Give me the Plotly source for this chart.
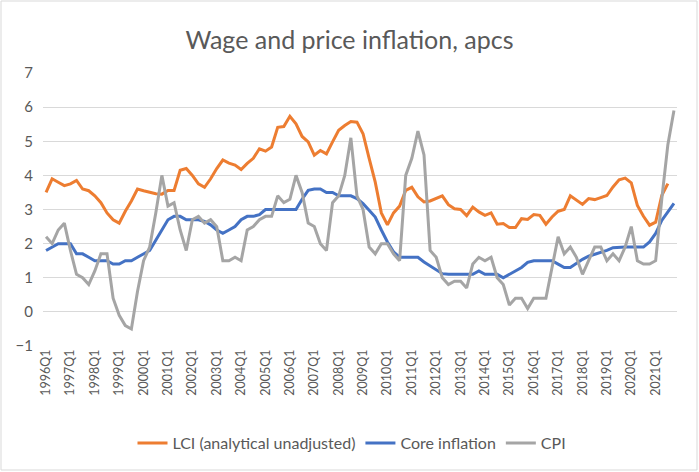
import plotly.graph_objects as go

quarters = [f"{y}Q{q}" for y in range(1996, 2022) for q in range(1, 5)]

lci = [3.5, 3.9, 3.8, 3.7, 3.75, 3.85, 3.6, 3.55, 3.4, 3.2, 2.9, 2.7, 2.6, 2.95, 3.25, 3.6,
       3.55, 3.5, 3.46, 3.45, 3.56, 3.56, 4.15, 4.2, 4.0, 3.75, 3.65, 3.9, 4.2, 4.45, 4.36, 4.3,
       4.17, 4.35, 4.5, 4.78, 4.71, 4.83, 5.41, 5.43, 5.73, 5.51, 5.14, 4.98, 4.59, 4.73, 4.63, 4.98,
       5.32, 5.46, 5.58, 5.56, 5.22, 4.5, 3.8, 2.9, 2.55, 2.9, 3.1, 3.56, 3.65, 3.37, 3.22, 3.25,
       3.33, 3.4, 3.14, 3.02, 3.0, 2.82, 3.07, 2.93, 2.83, 2.9, 2.57, 2.59, 2.47, 2.47, 2.73, 2.71,
       2.85, 2.83, 2.57, 2.78, 2.95, 3.0, 3.4, 3.27, 3.15, 3.32, 3.29, 3.35, 3.41, 3.66, 3.87, 3.92,
       3.78, 3.12, 2.8, 2.54, 2.63, 3.41, 3.76, None]

core = [1.8, 1.9, 2.0, 2.0, 2.0, 1.7, 1.7, 1.6, 1.5, 1.5, 1.5, 1.4, 1.4, 1.5, 1.5, 1.6,
        1.7, 1.8, 2.1, 2.4, 2.7, 2.8, 2.8, 2.7, 2.7, 2.7, 2.65, 2.55, 2.4, 2.3, 2.4, 2.5,
        2.7, 2.8, 2.8, 2.85, 3.0, 3.0, 3.0, 3.0, 3.0, 3.0, 3.3, 3.56, 3.6, 3.6, 3.5, 3.5,
        3.4, 3.4, 3.4, 3.32, 3.17, 2.98, 2.78, 2.4, 2.05, 1.76, 1.6, 1.6, 1.6, 1.6, 1.46, 1.34,
        1.22, 1.12, 1.1, 1.1, 1.1, 1.1, 1.1, 1.2, 1.1, 1.1, 1.1, 1.0, 1.1, 1.2, 1.3, 1.45,
        1.5, 1.5, 1.5, 1.5, 1.4, 1.3, 1.3, 1.42, 1.54, 1.63, 1.68, 1.73, 1.8, 1.88, 1.9, 1.9,
        1.9, 1.9, 1.9, 2.05, 2.3, 2.68, 2.95, 3.18]

cpi = [2.2, 2.0, 2.4, 2.6, 1.8, 1.1, 1.0, 0.8, 1.2, 1.7, 1.7, 0.4, -0.1, -0.4, -0.5, 0.6,
       1.5, 1.9, 2.9, 4.0, 3.1, 3.2, 2.4, 1.8, 2.7, 2.8, 2.6, 2.7, 2.5, 1.5, 1.5, 1.6,
       1.5, 2.4, 2.5, 2.7, 2.8, 2.8, 3.4, 3.2, 3.3, 4.0, 3.5, 2.6, 2.5, 2.0, 1.8, 3.2,
       3.4, 4.0, 5.1, 3.4, 3.0, 1.9, 1.7, 2.0, 2.0, 1.7, 1.5, 4.0, 4.5, 5.3, 4.6, 1.8,
       1.6, 1.0, 0.8, 0.9, 0.9, 0.7, 1.4, 1.6, 1.5, 1.6, 1.0, 0.8, 0.2, 0.4, 0.4, 0.1,
       0.4, 0.4, 0.4, 1.3, 2.2, 1.7, 1.9, 1.6, 1.1, 1.5, 1.9, 1.9, 1.5, 1.7, 1.5, 1.9,
       2.5, 1.5, 1.4, 1.4, 1.5, 3.3, 4.9, 5.9]

tick_labels = quarters[::4]

FONT = "Lato, Calibri, Carlito, sans-serif"
TXT = "#595959"

fig = go.Figure()
fig.add_trace(go.Scatter(x=quarters, y=lci, mode="lines", name="LCI (analytical unadjusted)",
                         line=dict(color="#ED7D31", width=3)))
fig.add_trace(go.Scatter(x=quarters, y=core, mode="lines", name="Core inflation",
                         line=dict(color="#4472C4", width=3)))
fig.add_trace(go.Scatter(x=quarters, y=cpi, mode="lines", name="CPI",
                         line=dict(color="#A5A5A5", width=3)))

W, H = 699, 472
ml, mr, mt, mb = 43, 22, 73, 126
pw, ph = W - ml - mr, H - mt - mb

fig.update_layout(
    width=W, height=H,
    margin=dict(l=ml, r=mr, t=mt, b=mb),
    paper_bgcolor="white", plot_bgcolor="white",
    font=dict(family=FONT, color=TXT, size=13),
    title=dict(text="Wage and price inflation, apcs", x=0.5, xanchor="center",
               y=1 - 40 / H, yanchor="middle", font=dict(size=25, color=TXT, family=FONT)),
    showlegend=True,
    legend=dict(orientation="h", x=(352 - ml) / pw, xanchor="center",
                y=-(443 - (H - mb)) / ph, yanchor="middle",
                font=dict(size=16, color=TXT, family=FONT), itemwidth=30),
    xaxis=dict(type="category", categoryorder="array", categoryarray=quarters,
               range=[-0.5, len(quarters) - 0.5], tickmode="array",
               tickvals=tick_labels, ticktext=tick_labels, tickangle=-90,
               showgrid=False, zeroline=False, showline=False, ticks="",
               tickfont=dict(size=12.5, color=TXT, family=FONT)),
    yaxis=dict(range=[-1, 7], dtick=1, tick0=0, showgrid=True, gridcolor="#D9D9D9",
               gridwidth=1, zeroline=False, showline=False, ticks="",
               ticklabelstandoff=9,
               tickfont=dict(size=15, color=TXT, family=FONT)),
    shapes=[dict(type="rect", xref="paper", yref="paper",
                 x0=-(ml - 1) / pw, x1=1 + (mr - 2) / pw,
                 y0=-(mb - 2) / ph, y1=1 + (mt - 1) / ph,
                 line=dict(color="#D9D9D9", width=1), fillcolor="rgba(0,0,0,0)", layer="below")],
)

fig.write_html("out.html", config={"displayModeBar": False},
               post_script="document.body.style.margin='0';")
